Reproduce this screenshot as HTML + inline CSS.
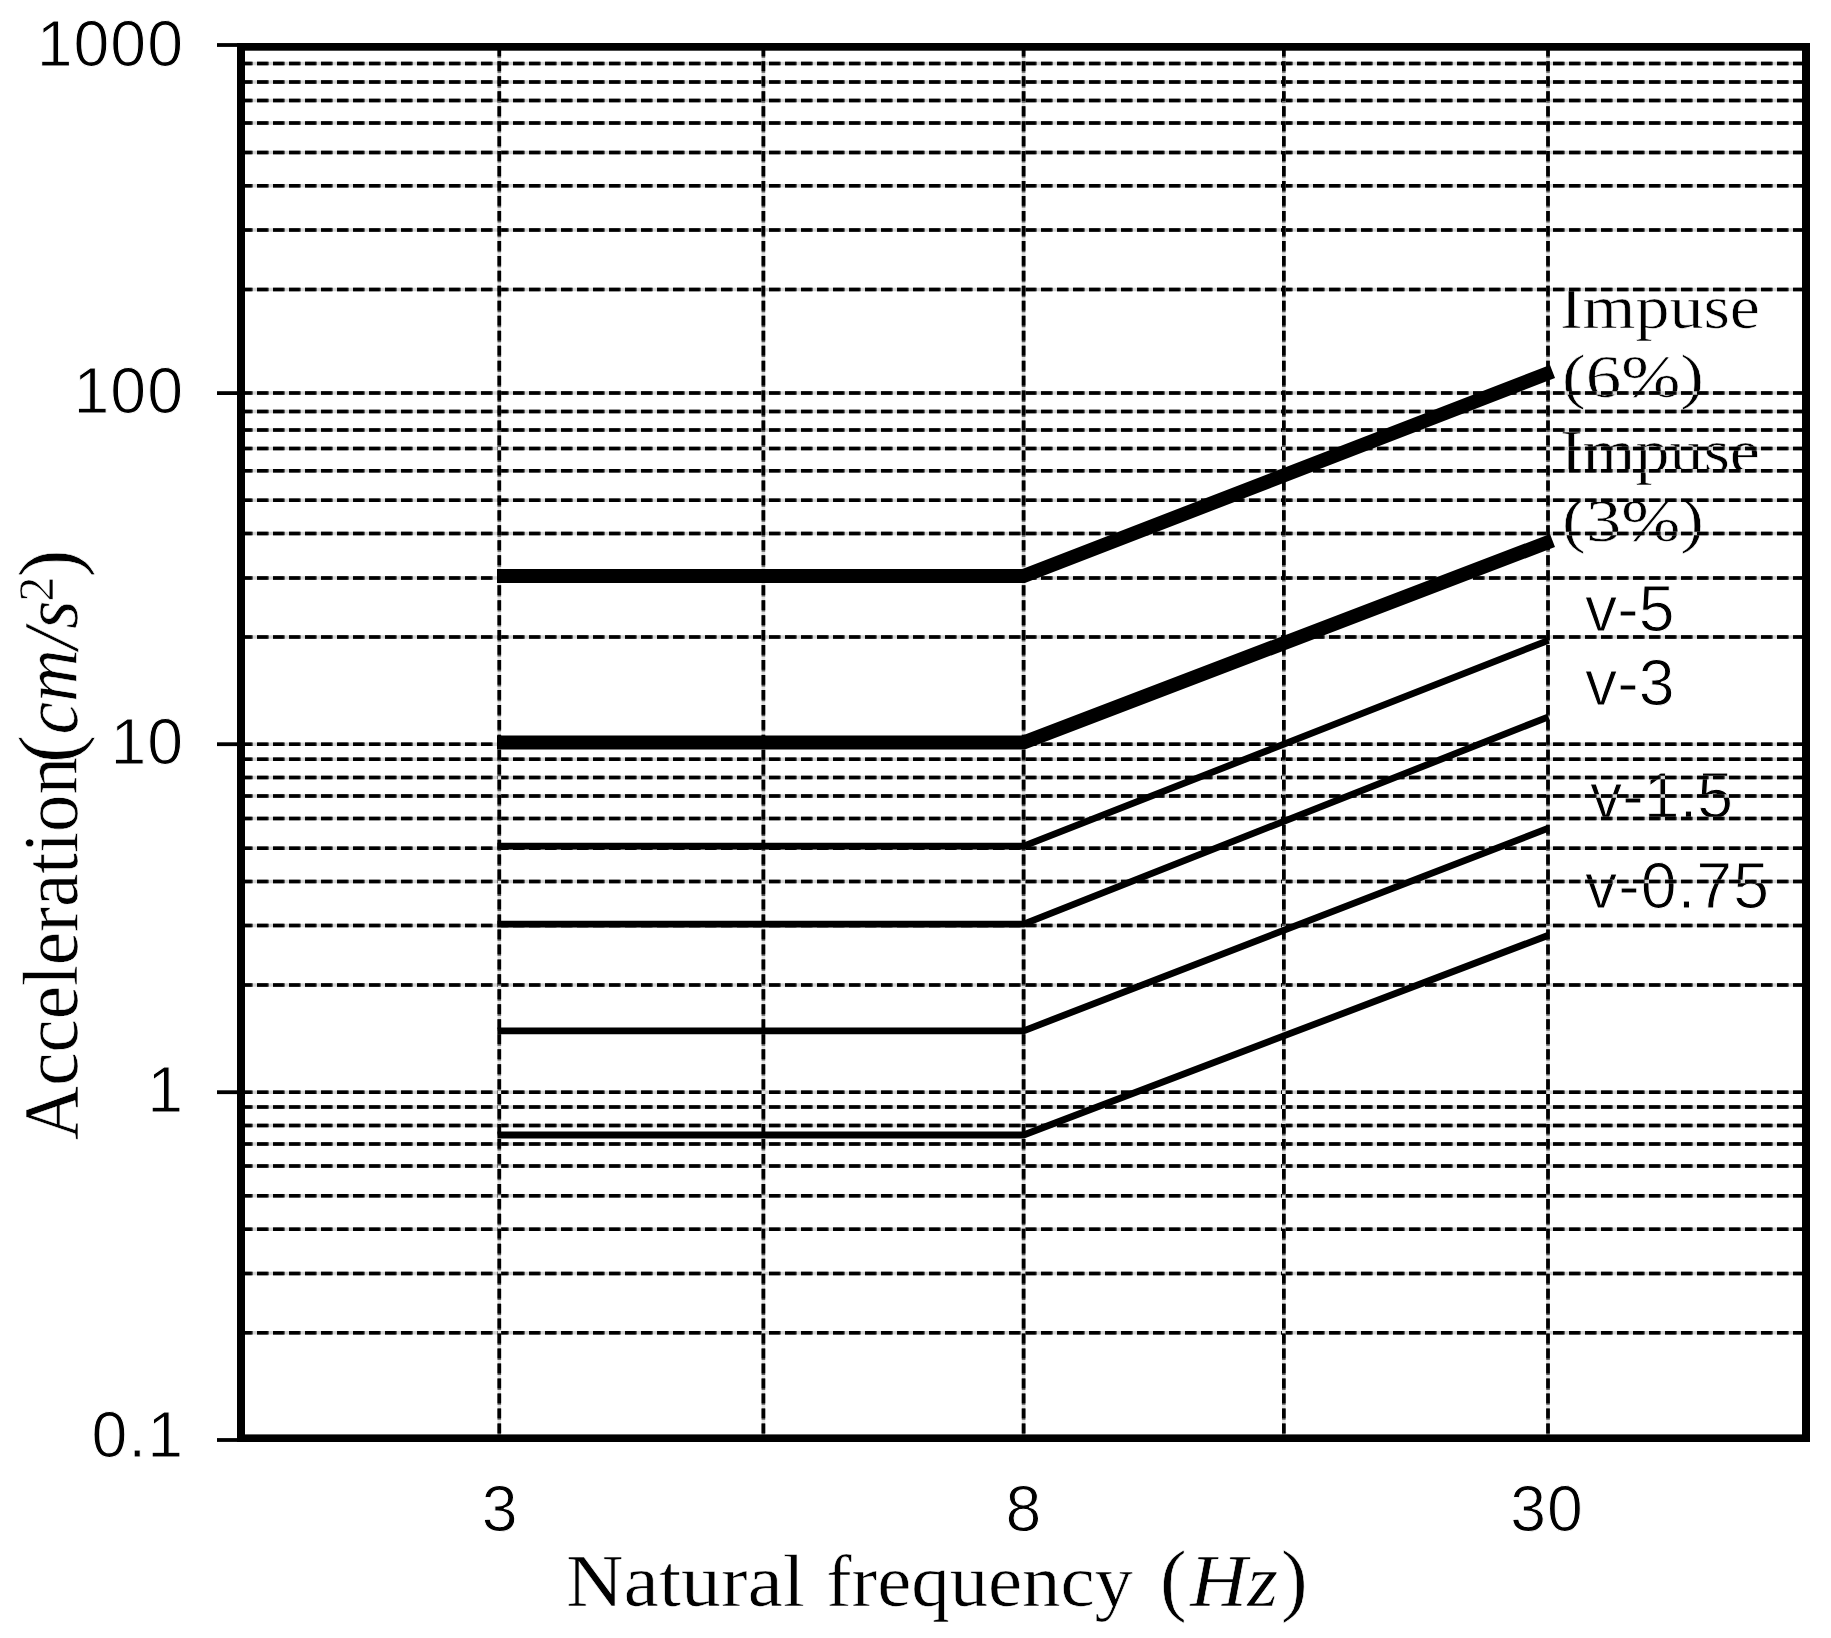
<!DOCTYPE html>
<html lang="en"><head><meta charset="utf-8"><title>Acceleration vs natural frequency</title>
<style>html,body{margin:0;padding:0;background:#fff}body{width:1831px;height:1638px;overflow:hidden}svg{display:block;filter:blur(0.55px)}.sans{font-family:"Liberation Sans",sans-serif}.serif{font-family:"Liberation Serif",serif}text{fill:#000;stroke:#fff}.sans text{stroke-width:1px}.serif text{stroke-width:.6px}</style></head><body>
<svg width="1831" height="1638" viewBox="0 0 1831 1638">
<rect x="-10" y="-10" width="1851" height="1658" fill="#fff"/>
<g id="ticklabels" class="sans" font-size="64.4" letter-spacing="1">
<text x="184" y="65.75" text-anchor="end">1000</text>
<text x="184" y="413.3" text-anchor="end">100</text>
<text x="184" y="764.2" text-anchor="end">10</text>
<text x="184" y="1112.2" text-anchor="end">1</text>
<text x="184" y="1456.7" text-anchor="end">0.1</text>
<text x="500.1" y="1530.8" text-anchor="middle">3</text>
<text x="1024" y="1530.8" text-anchor="middle">8</text>
<text x="1547" y="1530.8" text-anchor="middle">30</text>
</g>
<g id="vlabels" class="sans" font-size="64.4">
<text x="1585" y="631.1">v-5</text>
<text x="1585" y="704.5">v-3</text>
<text x="1590" y="818.4">v-1.5</text>
<text x="1585" y="908" letter-spacing="1">v-0.75</text>
</g>
<g id="implabels" class="serif" font-size="61">
<text x="1560" y="327.7" textLength="200" lengthAdjust="spacingAndGlyphs">Impuse</text>
<text x="1562" y="397.3" textLength="142" lengthAdjust="spacingAndGlyphs">(6%)</text>
<text x="1560" y="471.5" textLength="200" lengthAdjust="spacingAndGlyphs">Impuse</text>
<text x="1562" y="541" textLength="142" lengthAdjust="spacingAndGlyphs">(3%)</text>
</g>
<g id="xtitle" class="serif" font-size="73.6">
<text x="566" y="1605.5" textLength="239" lengthAdjust="spacingAndGlyphs">Natural</text>
<text x="826" y="1605.5" textLength="307" lengthAdjust="spacingAndGlyphs">frequency</text>
<text x="1160" y="1605.5" font-size="80">(</text>
<text x="1190" y="1605.5" font-style="italic" textLength="88" lengthAdjust="spacingAndGlyphs">Hz</text>
<text x="1281" y="1605.5" font-size="80">)</text>
</g>
<g id="ytitle" class="serif" font-size="78" transform="translate(77,1140) rotate(-90)">
<text x="0" y="0" textLength="383" lengthAdjust="spacingAndGlyphs">Acceleration</text>
<text x="377" y="0" font-size="84">(</text>
<text x="405.5" y="0" font-style="italic" textLength="134" lengthAdjust="spacingAndGlyphs">cm/s</text>
<text x="538.4" y="-24" font-size="50">2</text>
<text x="562.4" y="0" font-size="84">)</text>
</g>
<g id="hgrid" fill="none" stroke-width="3.5">
<g stroke="#d4d4d4">
<line x1="245" y1="63.5" x2="1802" y2="63.5"/>
<line x1="245" y1="82" x2="1802" y2="82"/>
<line x1="245" y1="100.4" x2="1802" y2="100.4"/>
<line x1="245" y1="122.9" x2="1802" y2="122.9"/>
<line x1="245" y1="152.5" x2="1802" y2="152.5"/>
<line x1="245" y1="185.7" x2="1802" y2="185.7"/>
<line x1="245" y1="229.9" x2="1802" y2="229.9"/>
<line x1="245" y1="289.5" x2="1802" y2="289.5"/>
<line x1="245" y1="393.1" x2="1802" y2="393.1"/>
<line x1="245" y1="411.6" x2="1802" y2="411.6"/>
<line x1="245" y1="430" x2="1802" y2="430"/>
<line x1="245" y1="448.5" x2="1802" y2="448.5"/>
<line x1="245" y1="470.7" x2="1802" y2="470.7"/>
<line x1="245" y1="500.2" x2="1802" y2="500.2"/>
<line x1="245" y1="533.6" x2="1802" y2="533.6"/>
<line x1="245" y1="578" x2="1802" y2="578"/>
<line x1="245" y1="637.1" x2="1802" y2="637.1"/>
<line x1="245" y1="744.2" x2="1802" y2="744.2"/>
<line x1="245" y1="759.2" x2="1802" y2="759.2"/>
<line x1="245" y1="777.6" x2="1802" y2="777.6"/>
<line x1="245" y1="796.1" x2="1802" y2="796.1"/>
<line x1="245" y1="818.5" x2="1802" y2="818.5"/>
<line x1="245" y1="848.2" x2="1802" y2="848.2"/>
<line x1="245" y1="881.4" x2="1802" y2="881.4"/>
<line x1="245" y1="925.5" x2="1802" y2="925.5"/>
<line x1="245" y1="984.9" x2="1802" y2="984.9"/>
<line x1="245" y1="1092.2" x2="1802" y2="1092.2"/>
<line x1="245" y1="1107" x2="1802" y2="1107"/>
<line x1="245" y1="1125.4" x2="1802" y2="1125.4"/>
<line x1="245" y1="1143.9" x2="1802" y2="1143.9"/>
<line x1="245" y1="1166.1" x2="1802" y2="1166.1"/>
<line x1="245" y1="1195.8" x2="1802" y2="1195.8"/>
<line x1="245" y1="1229.2" x2="1802" y2="1229.2"/>
<line x1="245" y1="1273.6" x2="1802" y2="1273.6"/>
<line x1="245" y1="1332.7" x2="1802" y2="1332.7"/>
</g>
<g stroke="#5c5c5c" stroke-dasharray="12 4">
<line x1="241" y1="63.5" x2="1802" y2="63.5"/>
<line x1="241" y1="82" x2="1802" y2="82"/>
<line x1="241" y1="100.4" x2="1802" y2="100.4"/>
<line x1="241" y1="122.9" x2="1802" y2="122.9"/>
<line x1="241" y1="152.5" x2="1802" y2="152.5"/>
<line x1="241" y1="185.7" x2="1802" y2="185.7"/>
<line x1="241" y1="229.9" x2="1802" y2="229.9"/>
<line x1="241" y1="289.5" x2="1802" y2="289.5"/>
<line x1="241" y1="393.1" x2="1802" y2="393.1"/>
<line x1="241" y1="411.6" x2="1802" y2="411.6"/>
<line x1="241" y1="430" x2="1802" y2="430"/>
<line x1="241" y1="448.5" x2="1802" y2="448.5"/>
<line x1="241" y1="470.7" x2="1802" y2="470.7"/>
<line x1="241" y1="500.2" x2="1802" y2="500.2"/>
<line x1="241" y1="533.6" x2="1802" y2="533.6"/>
<line x1="241" y1="578" x2="1802" y2="578"/>
<line x1="241" y1="637.1" x2="1802" y2="637.1"/>
<line x1="241" y1="744.2" x2="1802" y2="744.2"/>
<line x1="241" y1="759.2" x2="1802" y2="759.2"/>
<line x1="241" y1="777.6" x2="1802" y2="777.6"/>
<line x1="241" y1="796.1" x2="1802" y2="796.1"/>
<line x1="241" y1="818.5" x2="1802" y2="818.5"/>
<line x1="241" y1="848.2" x2="1802" y2="848.2"/>
<line x1="241" y1="881.4" x2="1802" y2="881.4"/>
<line x1="241" y1="925.5" x2="1802" y2="925.5"/>
<line x1="241" y1="984.9" x2="1802" y2="984.9"/>
<line x1="241" y1="1092.2" x2="1802" y2="1092.2"/>
<line x1="241" y1="1107" x2="1802" y2="1107"/>
<line x1="241" y1="1125.4" x2="1802" y2="1125.4"/>
<line x1="241" y1="1143.9" x2="1802" y2="1143.9"/>
<line x1="241" y1="1166.1" x2="1802" y2="1166.1"/>
<line x1="241" y1="1195.8" x2="1802" y2="1195.8"/>
<line x1="241" y1="1229.2" x2="1802" y2="1229.2"/>
<line x1="241" y1="1273.6" x2="1802" y2="1273.6"/>
<line x1="241" y1="1332.7" x2="1802" y2="1332.7"/>
</g>
<g stroke="#000" stroke-dasharray="10.8 5.2">
<line x1="241" y1="63.5" x2="1802" y2="63.5"/>
<line x1="241" y1="82" x2="1802" y2="82"/>
<line x1="241" y1="100.4" x2="1802" y2="100.4"/>
<line x1="241" y1="122.9" x2="1802" y2="122.9"/>
<line x1="241" y1="152.5" x2="1802" y2="152.5"/>
<line x1="241" y1="185.7" x2="1802" y2="185.7"/>
<line x1="241" y1="229.9" x2="1802" y2="229.9"/>
<line x1="241" y1="289.5" x2="1802" y2="289.5"/>
<line x1="241" y1="393.1" x2="1802" y2="393.1"/>
<line x1="241" y1="411.6" x2="1802" y2="411.6"/>
<line x1="241" y1="430" x2="1802" y2="430"/>
<line x1="241" y1="448.5" x2="1802" y2="448.5"/>
<line x1="241" y1="470.7" x2="1802" y2="470.7"/>
<line x1="241" y1="500.2" x2="1802" y2="500.2"/>
<line x1="241" y1="533.6" x2="1802" y2="533.6"/>
<line x1="241" y1="578" x2="1802" y2="578"/>
<line x1="241" y1="637.1" x2="1802" y2="637.1"/>
<line x1="241" y1="744.2" x2="1802" y2="744.2"/>
<line x1="241" y1="759.2" x2="1802" y2="759.2"/>
<line x1="241" y1="777.6" x2="1802" y2="777.6"/>
<line x1="241" y1="796.1" x2="1802" y2="796.1"/>
<line x1="241" y1="818.5" x2="1802" y2="818.5"/>
<line x1="241" y1="848.2" x2="1802" y2="848.2"/>
<line x1="241" y1="881.4" x2="1802" y2="881.4"/>
<line x1="241" y1="925.5" x2="1802" y2="925.5"/>
<line x1="241" y1="984.9" x2="1802" y2="984.9"/>
<line x1="241" y1="1092.2" x2="1802" y2="1092.2"/>
<line x1="241" y1="1107" x2="1802" y2="1107"/>
<line x1="241" y1="1125.4" x2="1802" y2="1125.4"/>
<line x1="241" y1="1143.9" x2="1802" y2="1143.9"/>
<line x1="241" y1="1166.1" x2="1802" y2="1166.1"/>
<line x1="241" y1="1195.8" x2="1802" y2="1195.8"/>
<line x1="241" y1="1229.2" x2="1802" y2="1229.2"/>
<line x1="241" y1="1273.6" x2="1802" y2="1273.6"/>
<line x1="241" y1="1332.7" x2="1802" y2="1332.7"/>
</g></g>
<g id="vgrid" fill="none" stroke-width="3.6">
<g stroke="#e2e2e2">
<line x1="499.3" y1="50.7" x2="499.3" y2="1434.4"/>
<line x1="763.4" y1="50.7" x2="763.4" y2="1434.4"/>
<line x1="1023.6" y1="50.7" x2="1023.6" y2="1434.4"/>
<line x1="1283.8" y1="50.7" x2="1283.8" y2="1434.4"/>
<line x1="1548" y1="50.7" x2="1548" y2="1434.4"/>
</g>
<g stroke="#5c5c5c" stroke-dasharray="11.4 3.568">
<line x1="499.3" y1="46.344" x2="499.3" y2="1434.4"/>
<line x1="763.4" y1="46.344" x2="763.4" y2="1434.4"/>
<line x1="1023.6" y1="46.344" x2="1023.6" y2="1434.4"/>
<line x1="1283.8" y1="46.344" x2="1283.8" y2="1434.4"/>
<line x1="1548" y1="46.344" x2="1548" y2="1434.4"/>
</g>
<g stroke="#000" stroke-dasharray="9.8 5.168">
<line x1="499.3" y1="46.344" x2="499.3" y2="1434.4"/>
<line x1="763.4" y1="46.344" x2="763.4" y2="1434.4"/>
<line x1="1023.6" y1="46.344" x2="1023.6" y2="1434.4"/>
<line x1="1283.8" y1="46.344" x2="1283.8" y2="1434.4"/>
<line x1="1548" y1="46.344" x2="1548" y2="1434.4"/>
</g></g>
<g id="frame" fill="#000">
<rect x="237" y="43" width="1573" height="7.7"/>
<rect x="237" y="1434.4" width="1573" height="7.6"/>
<rect x="237" y="43" width="8" height="1399"/>
<rect x="1802" y="43" width="8" height="1399"/>
<rect x="217" y="43.1" width="22" height="3.8"/>
<rect x="217" y="391.2" width="22" height="3.8"/>
<rect x="217" y="742.3" width="22" height="3.8"/>
<rect x="217" y="1090.3" width="22" height="3.8"/>
<rect x="217" y="1438.1" width="22" height="3.8"/>
</g>
<g id="curves" fill="none" stroke="#000" stroke-linejoin="miter" stroke-linecap="butt">
<polyline stroke-width="14" points="497,576 1023.6,576 1552.5,371.5"/>
<polyline stroke-width="14" points="497,742.5 1023.6,742.5 1552.5,540.5"/>
<polyline stroke-width="6.8" points="497.4,846.2 1023.6,846.2 1548.5,640.3"/>
<polyline stroke-width="6.8" points="497.4,924.1 1023.6,924.1 1548.5,716.8"/>
<polyline stroke-width="6.8" points="497.4,1030.8 1023.6,1030.8 1548.5,828.2"/>
<polyline stroke-width="6.8" points="497.4,1135 1023.6,1135 1548.5,935.2"/>
</g>
</svg></body></html>
